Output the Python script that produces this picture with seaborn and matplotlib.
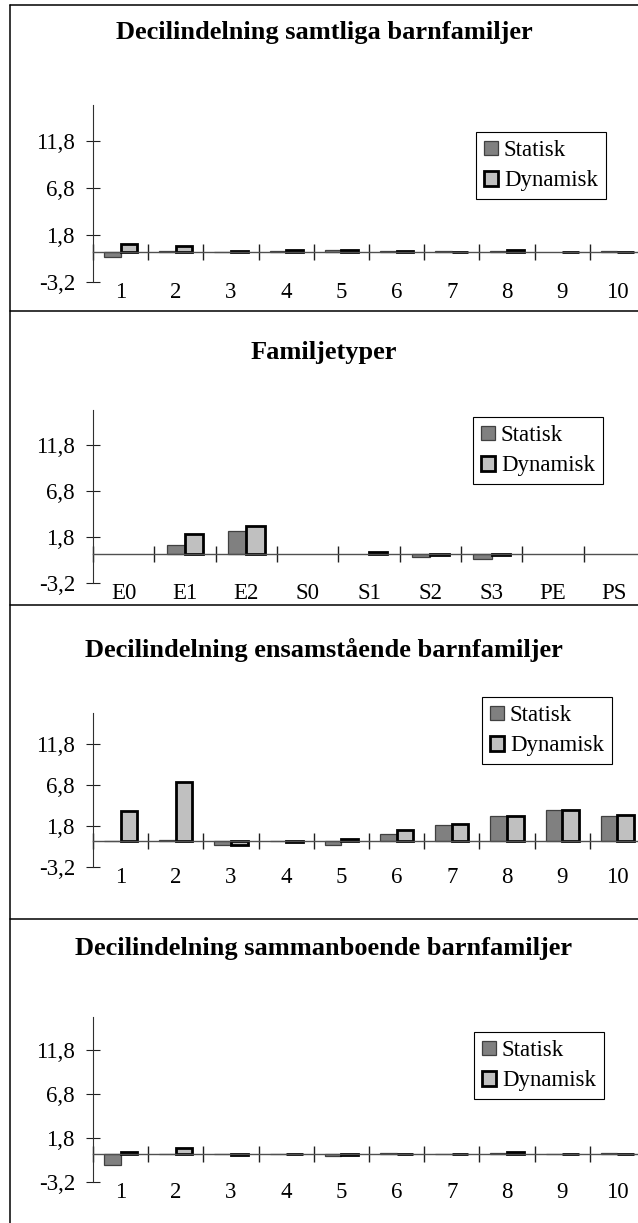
import numpy as np
import pandas as pd
import matplotlib
matplotlib.use("Agg")
import matplotlib.pyplot as plt
from matplotlib.patches import Patch
from matplotlib.lines import Line2D
from matplotlib.ticker import FuncFormatter
import seaborn as sns

sns.set_theme(style="white")
plt.rcParams["font.family"] = ["Liberation Serif", "DejaVu Serif"]
plt.rcParams["text.color"] = "black"
plt.rcParams["xtick.color"] = "black"
plt.rcParams["ytick.color"] = "black"

# ---- data -------------------------------------------------------------
deciler = [str(i) for i in range(1, 11)]
familjetyper = ["E0", "E1", "E2", "S0", "S1", "S2", "S3", "PE", "PS"]
serier = ["Statisk", "Dynamisk"]

samtliga_statisk = [-0.6, 0.03, -0.05, 0.1, 0.15, 0.03, 0.03, 0.05, 0.0, 0.03]
samtliga_dynamisk = [0.85, 0.6, 0.08, 0.2, 0.2, 0.1, -0.05, 0.15, -0.05, -0.05]

familj_statisk = [0.0, 0.92, 2.45, 0.0, 0.0, -0.3, -0.57, 0.0, 0.0]
familj_dynamisk = [0.0, 2.1, 3.0, 0.0, 0.15, -0.12, -0.15, 0.0, 0.0]

ensam_statisk = [-0.03, 0.04, -0.57, -0.1, -0.6, 0.82, 1.93, 2.99, 3.69, 3.07]
ensam_dynamisk = [3.6, 7.2, -0.6, -0.12, 0.25, 1.35, 2.0, 3.07, 3.77, 3.16]

samman_statisk = [-1.34, -0.05, -0.1, -0.05, -0.25, 0.03, -0.05, 0.03, -0.03, 0.03]
samman_dynamisk = [0.15, 0.65, -0.15, -0.1, -0.15, -0.05, -0.1, 0.2, -0.05, -0.05]

titlar = [
    "Decilindelning samtliga barnfamiljer",
    "Familjetyper",
    "Decilindelning ensamstående barnfamiljer",
    "Decilindelning sammanboende barnfamiljer",
]

y_ticks = [-3.2, 1.8, 6.8, 11.8]
y_limits = (-3.2, 15.6)

# ---- styling / layout (pixels on a 638 x 1223 canvas) ------------------
W, H = 638, 1223
farger = {"Statisk": "#808080", "Dynamisk": "#c0c0c0"}
kanter = {"Statisk": ("#404040", 0.9), "Dynamisk": ("#000000", 2.0)}
FS = 16.5

ax_left, ax_right = 93, 645
# (axes top, axes bottom, title y, legend left, legend top)
layout = [
    (105.0, 281.7, 32, 476, 132),
    (410.0, 583.3, 352, 473, 417),
    (713.3, 866.7, 650, 482, 697),
    (1016.7, 1181.7, 948, 474, 1032),
]
frame_left, frame_top = 9.5, 5
separators = [311, 605, 919]

fig = plt.figure(figsize=(W / 100, H / 100), dpi=100)
fig.patch.set_facecolor("white")

paneler = [
    (deciler, samtliga_statisk, samtliga_dynamisk),
    (familjetyper, familj_statisk, familj_dynamisk),
    (deciler, ensam_statisk, ensam_dynamisk),
    (deciler, samman_statisk, samman_dynamisk),
]

komma = FuncFormatter(lambda v, _: f"{v:.1f}".replace(".", ","))

for (kategorier, statisk, dynamisk), titel, (top, bot, ty, lx, ly) in zip(paneler, titlar, layout):
    n = len(kategorier)
    ax = fig.add_axes([ax_left / W, 1 - bot / H, (ax_right - ax_left) / W, (bot - top) / H])

    df = pd.DataFrame({
        "kategori": kategorier * 2,
        "serie": ["Statisk"] * n + ["Dynamisk"] * n,
        "värde": list(statisk) + list(dynamisk),
    })
    df = df[df["värde"] != 0]

    sns.barplot(data=df, x="kategori", y="värde", hue="serie", order=kategorier,
                hue_order=serier, palette=farger, saturation=1, width=0.6, gap=0,
                errorbar=None, legend=False, ax=ax)
    for cont, serie in zip(ax.containers, serier):
        ec, lw = kanter[serie]
        for bar in cont:
            bar.set_edgecolor(ec)
            bar.set_linewidth(lw)

    ax.set_xlim(-0.5, n - 0.5)
    ax.set_ylim(*y_limits)
    ax.set_xlabel("")
    ax.set_ylabel("")
    ax.set_facecolor("none")
    for s in ("top", "right"):
        ax.spines[s].set_visible(False)
    ax.spines["bottom"].set_position(("data", 0))
    ax.spines["bottom"].set_color("#505050")
    ax.spines["left"].set_color("#303030")
    ax.spines["bottom"].set_linewidth(1.0)
    ax.spines["left"].set_linewidth(0.8)

    ax.set_xticks(np.arange(n + 1) - 0.5)
    ax.tick_params(axis="x", direction="inout", length=12, width=1, color="#202020",
                   labelbottom=False, bottom=True)
    ax.set_yticks(y_ticks)
    ax.yaxis.set_major_formatter(komma)
    ax.tick_params(axis="y", direction="inout", length=10, width=0.8, color="#202020",
                   labelsize=FS, pad=8, left=True, labelcolor="black")

    sec = ax.secondary_xaxis("bottom")
    sec.set_xticks(range(n), labels=kategorier)
    sec.tick_params(length=0, labelsize=FS, pad=0, labelcolor="black")
    sec.spines["bottom"].set_visible(False)

    handles = [Patch(facecolor=farger[s], edgecolor=kanter[s][0], linewidth=kanter[s][1])
               for s in serier]
    leg = ax.legend(handles, serier, loc="upper left", bbox_to_anchor=(lx / W, 1 - ly / H),
                    bbox_transform=fig.transFigure, frameon=True, fancybox=False,
                    framealpha=1, edgecolor="black", fontsize=FS, handlelength=0.62,
                    handleheight=0.62, handletextpad=0.25, labelspacing=0.4,
                    borderpad=0.35, borderaxespad=0)
    leg.get_frame().set_linewidth(0.8)
    for t in leg.get_texts():
        t.set_color("black")

    fig.text(324 / W, 1 - ty / H, titel, ha="center", va="center",
             fontsize=19, fontweight="bold", color="black")

# panel frame lines
fig.add_artist(Line2D([frame_left / W] * 2, [0, 1 - frame_top / H],
                      transform=fig.transFigure, color="black", lw=1.1))
for y in [frame_top] + separators:
    fig.add_artist(Line2D([frame_left / W, 1], [1 - y / H] * 2,
                          transform=fig.transFigure, color="black", lw=1.1))

fig.savefig("out.png", dpi=100)
